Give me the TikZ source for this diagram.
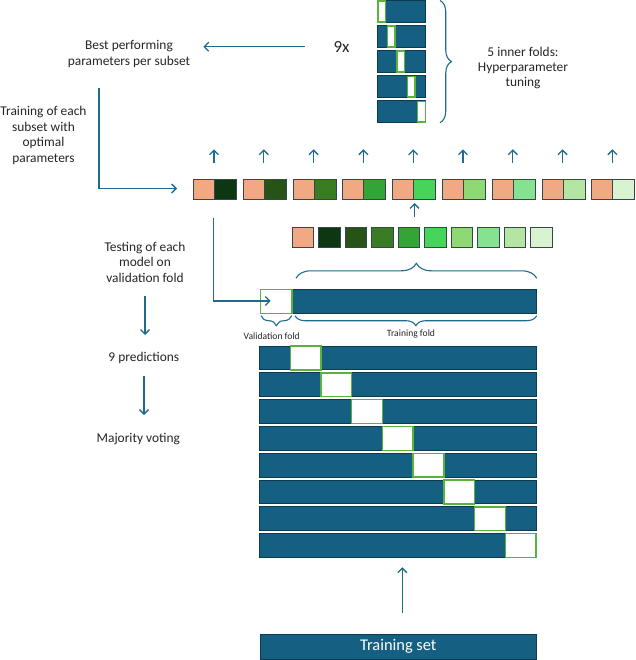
\documentclass[tikz,border=0pt]{standalone}
\usepackage{fontspec}
\setmainfont{Carlito}
\usetikzlibrary{arrows.meta,decorations.pathreplacing}
\definecolor{barblue}{HTML}{156082}
\definecolor{barline}{HTML}{0E3A50}
\definecolor{valgreen}{HTML}{5AB43A}
\definecolor{arrblue}{HTML}{1F6B8E}
\definecolor{sqline}{HTML}{35464D}
\definecolor{txt}{HTML}{262626}
\definecolor{peach}{HTML}{F1A983}
\definecolor{gA}{HTML}{0D3712}
\definecolor{gB}{HTML}{275317}
\definecolor{gC}{HTML}{3A7C22}
\definecolor{gD}{HTML}{33A537}
\definecolor{gE}{HTML}{47D45A}
\definecolor{gF}{HTML}{8ED973}
\definecolor{gG}{HTML}{84E291}
\definecolor{gH}{HTML}{B4E5A2}
\definecolor{gI}{HTML}{D9F2D0}
\tikzset{
  bluebar/.style={fill=barblue, draw=barline, line width=0.9pt},
  valbox/.style={fill=white, draw=valgreen, line width=1.4pt},
  sqbox/.style={draw=sqline, line width=1pt},
  arr/.style={draw=arrblue, line width=1.3pt, -{Straight Barb[length=4.5pt,width=9pt]}},
  brc/.style={draw=arrblue, line width=1.1pt, decorate},
  lbl/.style={align=center, text=txt, inner sep=0pt},
}
\begin{document}
\begin{tikzpicture}[x=1pt,y=-1pt]
\useasboundingbox (0,0) rectangle (635,660);
\fill[white] (0,0) rectangle (635,660);

% inner folds
\foreach \i/\vx in {0/378,1/387.5,2/397,3/407.5,4/417.7}{
  \pgfmathsetmacro\yt{0.5+\i*25.05}
  \draw[bluebar] (377.7,\yt) rectangle (425.7,\yt+22);
  \draw[valbox] (\vx,\yt+0.6) rectangle (\vx+7.5,\yt+21.4);
}
\draw[brc, decoration={brace, amplitude=11.5}] (440,0.5) -- (440,122.7);
\node[lbl, font=\fontsize{13.4}{15}\selectfont] (inner) at (523,68) {5 inner folds:\\Hyperparameter\\tuning};

\node[lbl, font=\fontsize{17}{20}\selectfont] (ninex) at (341.5,47) {9x};
\node[lbl, font=\fontsize{13.4}{15.7}\selectfont] (best) at (129,53.9) {Best performing\\parameters per subset};
\coordinate (a1s) at (305,46.7);
\coordinate (a1e) at (203.3,46.7);
\draw[arr] (a1s) -- (a1e);

\node[lbl, font=\fontsize{13.4}{15.8}\selectfont] (train) at (43.5,135.4) {Training of each\\subset with\\optimal\\parameters};
\coordinate (l1s) at (99,88);
\coordinate (l1e) at (177,188.5);
\draw[arr] (l1s) |- (l1e);

% pairs
\foreach \i/\c in {0/gA,1/gB,2/gC,3/gD,4/gE,5/gF,6/gG,7/gH,8/gI}{
  \pgfmathsetmacro\xo{193.5+\i*49.8}
  \draw[sqbox, fill=peach] (\xo,179.3) rectangle (\xo+21,199.3);
  \draw[sqbox, fill=\c] (\xo+21,179.3) rectangle (\xo+43,199.3);
  \coordinate (pu\i) at (\xo+20.5,163);
  \coordinate (pt\i) at (\xo+20.5,149.3);
  \draw[arr] (pu\i) -- (pt\i);
}
% parameter squares
\foreach \i/\c in {0/peach,1/gA,2/gB,3/gC,4/gD,5/gE,6/gF,7/gG,8/gH,9/gI}{
  \pgfmathsetmacro\xo{292+\i*26.55}
  \draw[sqbox, fill=\c] (\xo,227.3) rectangle (\xo+21.5,247.3);
}
\coordinate (s5s) at (414.5,217);
\coordinate (s5e) at (414.5,203);
\draw[arr] (s5s) -- (s5e);

% brace above main bar
\draw[brc, decoration={brace, amplitude=15}] (296,278.3) -- (536.7,278.3);

% main bar
\draw[bluebar] (260.7,289.3) rectangle (536.7,313.3);
\draw[valbox] (260.7,289.3) rectangle (292,313.3);
\coordinate (l2s) at (213.3,218);
\coordinate (l2e) at (270.7,301);
\draw[arr] (l2s) |- (l2e);

% braces below main bar
\draw[brc, decoration={brace, amplitude=10}] (291.7,315.7) -- (261,315.7);
\draw[brc, decoration={brace, amplitude=10}] (536.7,315.7) -- (295,315.7);
\node[lbl, font=\fontsize{9.6}{11}\selectfont] (vf) at (271.7,336) {Validation fold};
\node[lbl, font=\fontsize{9.6}{11}\selectfont] (tf) at (411,333.5) {Training fold};

\node[lbl, font=\fontsize{13.4}{15.5}\selectfont] (test) at (145,262.3) {Testing of each\\model on\\validation fold};
\coordinate (d1s) at (145,295.7);
\coordinate (d1e) at (145,335);
\draw[arr] (d1s) -- (d1e);
\node[lbl, font=\fontsize{13.4}{16}\selectfont] (pred) at (143.8,358.3) {9 predictions};
\coordinate (d2s) at (144,376);
\coordinate (d2e) at (144,415);
\draw[arr] (d2s) -- (d2e);
\node[lbl, font=\fontsize{13.4}{16}\selectfont] (vote) at (138.3,439) {Majority voting};

% outer folds
\foreach \k in {1,...,8}{
  \pgfmathsetmacro\yt{346+(\k-1)*26.8}
  \pgfmathsetmacro\vx{259.5+\k*30.72}
  \draw[bluebar] (259.5,\yt) rectangle (536,\yt+23.8);
  \draw[valbox] (\vx,\yt) rectangle (\vx+30.72,\yt+23.8);
}

% training set
\node[bluebar, minimum width=276.5pt, minimum height=25.3pt, inner sep=0pt, text=white, font=\fontsize{16.4}{19}\selectfont] (tset) at (398.3,646.6) {Training set};
\coordinate (u1s) at (402.3,613.3);
\coordinate (u1e) at (402.3,567.3);
\draw[arr] (u1s) -- (u1e);
\end{tikzpicture}
\end{document}
